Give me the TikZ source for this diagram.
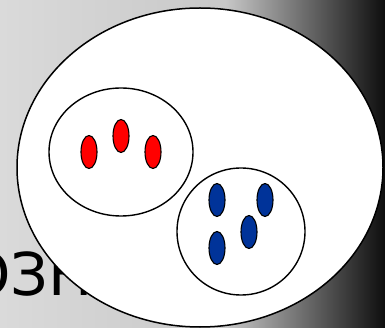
\documentclass[tikz,border=0pt]{standalone}
\usepackage{fontspec}
\setmainfont{DejaVu Sans}
\usepackage{xcolor}
\usepackage{tikz}
\usetikzlibrary{shapes.geometric}
\definecolor{dotred}{HTML}{FF0000}
\definecolor{dotblue}{HTML}{003399}
\definecolor{paleback}{HTML}{DADADA}
\definecolor{midback}{HTML}{C8C8C8}
\definecolor{darkback}{HTML}{0E0E0E}
\tikzset{
  universe/.style={ellipse, draw=black, line width=1.5pt, fill=white, inner sep=0pt},
  group/.style={ellipse, draw=black, line width=1.4pt, fill=white, inner sep=0pt},
  reddot/.style={ellipse, draw=black, line width=1.1pt, fill=dotred, minimum width=16pt, minimum height=33pt, inner sep=0pt},
  bluedot/.style={ellipse, draw=black, line width=1.1pt, fill=dotblue, minimum width=16pt, minimum height=33pt, inner sep=0pt},
}

\begin{document}
\begin{tikzpicture}[x=1pt, y=-1pt]
  \useasboundingbox (0,0) rectangle (385,328);
  \clip (0,0) rectangle (385,328);
  % background
  \shade[left color=paleback, right color=midback] (0,0) rectangle (226,328);
  \shade[left color=midback, right color=darkback] (225,0) rectangle (385,328);
  \node[anchor=base west, inner sep=0pt, font=\fontsize{59}{66}\selectfont] (title) at (-36,295) {ОЗН};

  % sets
  \node[universe, minimum width=366pt, minimum height=319pt] (whole) at (200,167.5) {};
  \node[group, minimum width=144pt, minimum height=128pt] (redset) at (121,152) {};
  \node[group, minimum width=128pt, minimum height=127pt] (blueset) at (241,231.5) {};

  % elements
  \node[reddot] (r1) at (89,152) {};
  \node[reddot] (r2) at (121,136) {};
  \node[reddot] (r3) at (153,152) {};
  \node[bluedot] (b1) at (217,200) {};
  \node[bluedot] (b2) at (265,200) {};
  \node[bluedot] (b3) at (249,232) {};
  \node[bluedot] (b4) at (217,248) {};
\end{tikzpicture}
\end{document}
